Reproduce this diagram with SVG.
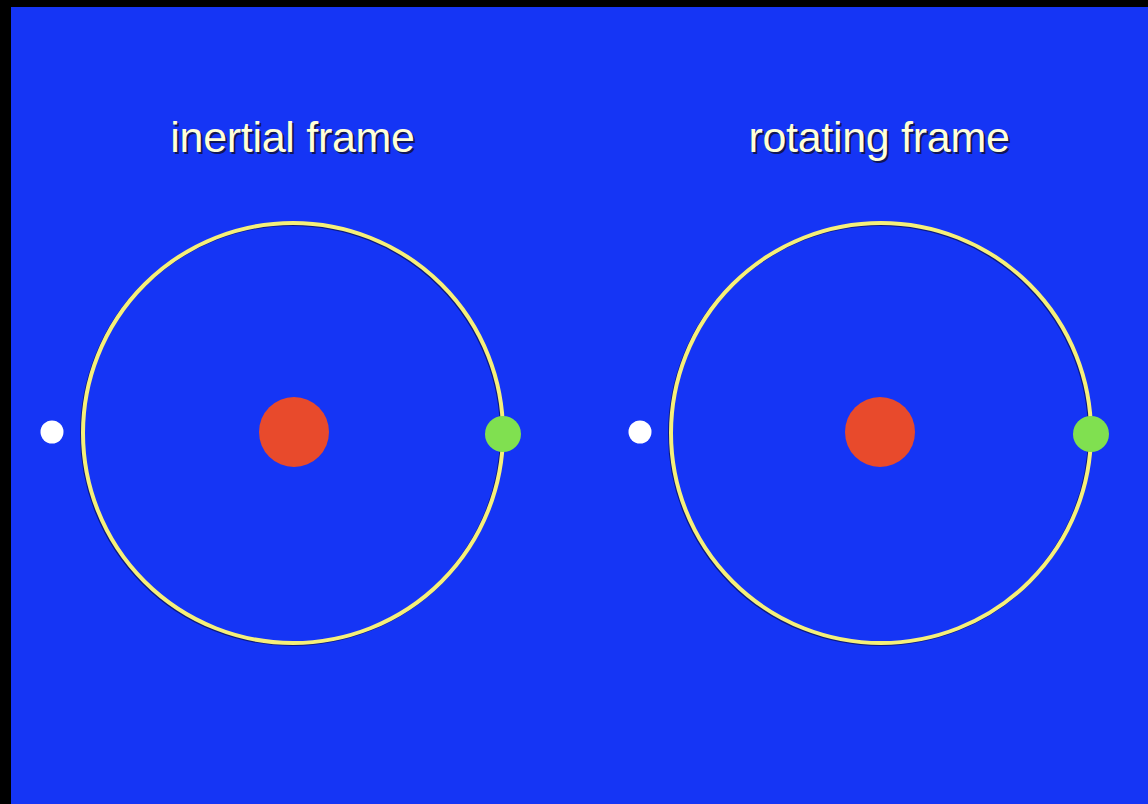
<svg xmlns="http://www.w3.org/2000/svg" width="1148" height="804" viewBox="0 0 1148 804">
<defs>
<style>
.title{font-family:"Liberation Sans",Arial,sans-serif;font-size:43px;fill:#FFFFD8;text-anchor:middle;letter-spacing:-0.3px}
.shadow{font-family:"Liberation Sans",Arial,sans-serif;font-size:43px;fill:#101030;text-anchor:middle;letter-spacing:-0.3px;opacity:0.8}
.orbit{fill:none;stroke:#F6F07A;stroke-width:4}
.orbitsh{fill:none;stroke:#0A1460;stroke-width:4;opacity:0.8}
.sun{fill:#E84A2C}
.planet{fill:#80E050}
.star{fill:#FFFFFF}
</style>
</defs>
<rect x="0" y="0" width="1148" height="804" fill="#000000"/>
<rect x="11" y="7" width="1137" height="797" fill="#1535F5"/>
<g id="inertial">
<text class="shadow" x="294.5" y="153.5">inertial frame</text>
<text class="title" x="292.5" y="152">inertial frame</text>
<circle class="orbitsh" cx="292" cy="434" r="210"/>
<circle class="orbit" cx="293" cy="433" r="210"/>
<circle class="sun" cx="294" cy="432" r="35"/>
<circle class="star" cx="52" cy="432" r="11.5"/>
<circle class="planet" cx="503" cy="434" r="18"/>
</g>
<g id="rotating">
<text class="shadow" x="881" y="153.5">rotating frame</text>
<text class="title" x="879" y="152">rotating frame</text>
<circle class="orbitsh" cx="880" cy="434" r="210"/>
<circle class="orbit" cx="881" cy="433" r="210"/>
<circle class="sun" cx="880" cy="432" r="35"/>
<circle class="star" cx="640" cy="432" r="11.5"/>
<circle class="planet" cx="1091" cy="434" r="18"/>
</g>
<g id="connectors"></g>
</svg>
